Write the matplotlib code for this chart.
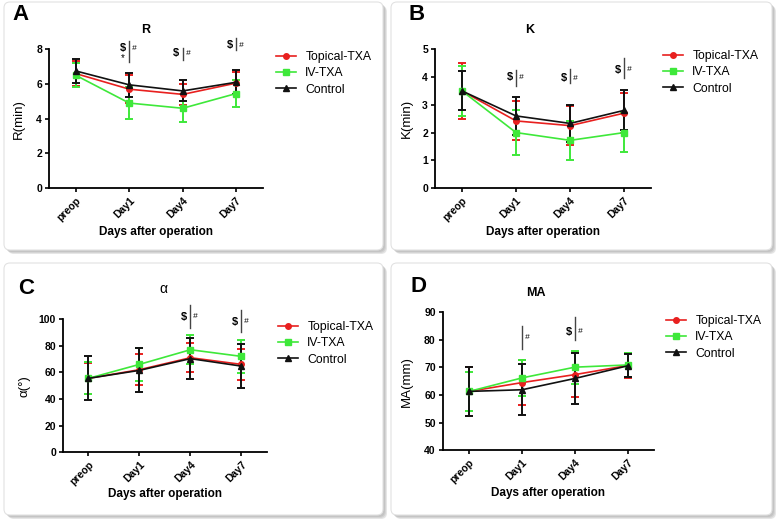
import matplotlib
matplotlib.use("Agg")
import matplotlib.pyplot as plt
from matplotlib.patches import FancyBboxPatch
from matplotlib.lines import Line2D

plt.rcParams['font.family'] = ['Liberation Sans', 'DejaVu Sans']

days = ['preop', 'Day1', 'Day4', 'Day7']
groups = ['Topical-TXA', 'IV-TXA', 'Control']

# R (min)
r_topical = [6.6, 5.7, 5.4, 6.05]
r_topical_sd = [0.7, 0.8, 0.6, 0.65]
r_iv = [6.5, 4.9, 4.6, 5.45]
r_iv_sd = [0.7, 0.9, 0.8, 0.8]
r_control = [6.75, 5.95, 5.6, 6.1]
r_control_sd = [0.7, 0.7, 0.6, 0.7]

# K (min)
k_topical = [3.5, 2.42, 2.25, 2.7]
k_topical_sd = [1.0, 0.7, 0.7, 0.72]
k_iv = [3.5, 2.0, 1.72, 2.0]
k_iv_sd = [0.9, 0.8, 0.7, 0.7]
k_control = [3.5, 2.6, 2.33, 2.8]
k_control_sd = [0.7, 0.68, 0.68, 0.72]

# alpha (deg)
a_topical = [55.5, 62.0, 71.0, 66.0]
a_topical_sd = [11.5, 11.5, 11.0, 11.5]
a_iv = [55.5, 66.0, 77.0, 72.0]
a_iv_sd = [12.0, 12.5, 11.0, 12.5]
a_control = [55.5, 61.5, 70.3, 64.7]
a_control_sd = [16.5, 16.5, 15.2, 16.5]

# MA (mm)
ma_topical = [61.3, 64.5, 67.4, 70.7]
ma_topical_sd = [9.0, 8.2, 8.2, 4.4]
ma_iv = [61.3, 66.2, 70.1, 70.9]
ma_iv_sd = [7.0, 6.5, 6.0, 4.5]
ma_control = [61.3, 61.9, 66.0, 70.6]
ma_control_sd = [9.0, 9.3, 9.3, 4.2]

# significance marks: (day index, show "$", "$" y, line bottom, line top, show "*")
r_sig = [(1, True, 8.05, 7.25, 8.45, True), (2, True, 7.77, 7.37, 8.06, False),
         (3, True, 8.23, 7.94, 8.63, False)]
k_sig = [(1, True, 4.0, 3.68, 4.27, False), (2, True, 3.95, 3.79, 4.3, False),
         (3, True, 4.27, 3.95, 4.7, False)]
a_sig = [(2, True, 101.7, 93, 110.5, False), (3, True, 98, 90.5, 106.8, False)]
ma_sig = [(1, False, 80.9, 76.6, 84.9, False), (2, True, 82.9, 80.1, 88.3, False)]

colors = ['#e8201f', '#3ee83a', '#111111']
markers = ['o', 's', '^']

fig = plt.figure(figsize=(7.78, 5.24), dpi=100)

# card backgrounds in pixel coordinates
bg = fig.add_axes([0, 0, 1, 1], zorder=-1)
bg.set_xlim(0, 778)
bg.set_ylim(524, 0)
bg.axis('off')
cards = [(4, 2, 379, 248), (391, 2, 381, 248), (4, 263, 379, 252), (391, 263, 381, 252)]
for x, y, w, h in cards:
    for off, c in [(4, '#e6e6e6'), (3, '#d4d4d4'), (2, '#c4c4c4')]:
        bg.add_patch(FancyBboxPatch((x + off, y + off), w, h, boxstyle='round,pad=0,rounding_size=6',
                                    fc=c, ec='none'))
    bg.add_patch(FancyBboxPatch((x, y), w, h, boxstyle='round,pad=0,rounding_size=6',
                                fc='white', ec='#e2e2e2', lw=0.8))

panels = [
    dict(pos=[0.063, 0.641, 0.275, 0.265], data=[(r_topical, r_topical_sd), (r_iv, r_iv_sd), (r_control, r_control_sd)],
         ylim=(0, 8), yticks=[0, 2, 4, 6, 8], ylabel='R(min)', title='R', tbold=True, tpos=(0.45, 1.14),
         ylc=-0.115, sig=r_sig, letter='A', lpos=(12, 14), leg=(276, 51)),
    dict(pos=[0.559, 0.641, 0.278, 0.265], data=[(k_topical, k_topical_sd), (k_iv, k_iv_sd), (k_control, k_control_sd)],
         ylim=(0, 5), yticks=[0, 1, 2, 3, 4, 5], ylabel='K(min)', title='K', tbold=True, tpos=(0.44, 1.14),
         ylc=-0.10, sig=k_sig, letter='B', lpos=(408, 14), leg=(663, 50)),
    dict(pos=[0.081, 0.137, 0.262, 0.254], data=[(a_topical, a_topical_sd), (a_iv, a_iv_sd), (a_control, a_control_sd)],
         ylim=(0, 100), yticks=[0, 20, 40, 60, 80, 100], ylabel='α(°)', title='α', tbold=False, tpos=(0.49, 1.23),
         ylc=-0.16, sig=a_sig, letter='C', lpos=(18, 288), leg=(278, 321)),
    dict(pos=[0.569, 0.141, 0.272, 0.263], data=[(ma_topical, ma_topical_sd), (ma_iv, ma_iv_sd), (ma_control, ma_control_sd)],
         ylim=(40, 90), yticks=[40, 50, 60, 70, 80, 90], ylabel='MA(mm)', title='MA', tbold=True, tpos=(0.44, 1.14),
         ylc=-0.14, sig=ma_sig, letter='D', lpos=(411, 287), leg=(666, 315)),
]

x = list(range(len(days)))
for p in panels:
    ax = fig.add_axes(p['pos'])
    handles = []
    for (mean, sd), col, mk, name in zip(p['data'], colors, markers, groups):
        ax.errorbar(x, mean, yerr=sd, color=col, marker=mk, markersize=4, lw=1.2,
                    elinewidth=1.4, capsize=3, capthick=1.4, clip_on=False)
        handles.append(Line2D([], [], color=col, marker=mk, markersize=4, lw=1.2, label=name))
    ax.set_xlim(-0.5, 3.5)
    ax.set_ylim(*p['ylim'])
    ax.set_yticks(p['yticks'])
    ax.set_xticks(x)
    ax.set_xticklabels(days, rotation=45, ha='right', rotation_mode='anchor', fontweight='bold', fontsize=7.5)
    for lab in ax.get_yticklabels():
        lab.set_fontweight('bold')
        lab.set_fontsize(7.5)
    ax.spines['top'].set_visible(False)
    ax.spines['right'].set_visible(False)
    ax.spines['left'].set_linewidth(1.3)
    ax.spines['bottom'].set_linewidth(1.3)
    ax.tick_params(width=1.2, length=3, pad=2)
    ax.set_xlabel('Days after operation', fontweight='bold', fontsize=8.5)
    ax.xaxis.set_label_coords(0.5, -0.27)
    ax.set_ylabel(p['ylabel'], fontsize=9.5)
    ax.yaxis.set_label_coords(p['ylc'], 0.5)
    ax.text(p['tpos'][0], p['tpos'][1], p['title'], transform=ax.transAxes, ha='center', va='center',
            fontsize=9 if p['tbold'] else 10, fontweight='bold' if p['tbold'] else 'normal')
    for day, dollar, ty, lo, hi, star in p['sig']:
        ax.plot([day, day], [lo, hi], color='#444444', lw=1.0, clip_on=False)
        if dollar:
            ax.text(day - 0.12, ty, '$', ha='center', va='center', fontsize=8, fontweight='bold', clip_on=False)
        ax.text(day + 0.1, ty, '#', ha='center', va='center', fontsize=6, style='italic', clip_on=False)
        if star:
            ax.text(day - 0.12, ty - (hi - lo) * 0.45, '*', ha='center', va='center', fontsize=7, clip_on=False)
    lx, ly = p['leg']
    ax.legend(handles=handles, loc='upper left', bbox_to_anchor=(lx / 778, 1 - ly / 524),
              bbox_transform=fig.transFigure, frameon=False, fontsize=8.8, handlelength=1.6,
              handletextpad=0.8, labelspacing=0.35, borderpad=0, borderaxespad=0)
    fig.text(p['lpos'][0] / 778, 1 - p['lpos'][1] / 524, p['letter'], ha='left', va='center',
             fontsize=16, fontweight='bold')

fig.savefig('out.png', dpi=100)
